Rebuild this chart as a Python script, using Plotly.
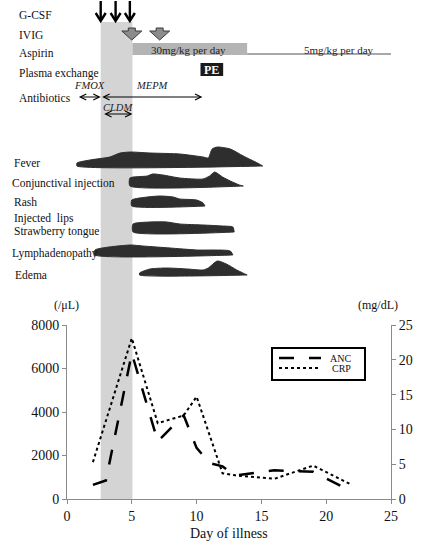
import plotly.graph_objects as go

# ---------------- data ----------------
# Lower chart: absolute neutrophil count (/uL) and CRP (mg/dL)
anc_days = [2, 3, 5, 7, 9, 10, 11, 12, 13, 16, 19, 22]
anc_vals = [650, 850, 6700, 2650, 3850, 2350, 1650, 1500, 1080, 1320, 1250, 330]
crp_days = [2, 5, 7, 9, 10, 12, 13, 16, 19, 22]
crp_vals = [5.3, 23.1, 10.9, 12.0, 14.7, 3.7, 3.4, 2.9, 4.8, 2.0]

x_ticks = [0, 5, 10, 15, 20, 25]
anc_ticks = [0, 2000, 4000, 6000, 8000]
crp_ticks = [0, 5, 10, 15, 20, 25]

# Treatment timeline (days)
band_days = [2.6, 5.05]              # shaded period
gcsf_days = [2.6, 3.75, 4.85]
ivig_days = [5.0, 7.15]
aspirin_high_days = [5.05, 13.9]
aspirin_low_days = [13.9, 25.0]
pe_days = [10.3, 12.05]
fmox_days = [0.8, 2.6]
mepm_days = [2.6, 10.45]
cldm_days = [2.75, 5.05]

# Symptom profiles: day and relative intensity
fever_days = [0.77, 1.77, 3.3, 4.1, 4.9, 6.4, 8.7, 10.5, 10.9, 11.2, 11.6, 12.6, 13.6, 14.7, 15.1]
fever_h = [3, 6, 9, 13, 14, 13, 12, 9, 8, 17, 19, 17, 10, 3, 0]
conj_days = [4.86, 6.2, 6.6, 7.4, 8.7, 10.5, 11.0, 11.4, 12.0, 12.6, 13.3, 13.6]
conj_h = [8, 10, 12, 11, 8, 7, 10, 14, 9, 5, 1, 0]
rash_days = [5.0, 6.2, 7.2, 8.2, 8.7, 10.0, 10.5, 10.65]
rash_h = [6, 9, 10, 9, 7, 6, 3, 0]
lips_days = [5.1, 6.4, 7.7, 8.7, 10.5, 12.0, 12.8, 12.9]
lips_h = [8, 10, 10, 8, 7, 6, 5, 0]
lymph_days = [2.16, 4.86, 5.86, 7.95, 10.0, 12.6, 12.8]
lymph_h = [5, 10, 9, 7, 5, 4, 0]
edema_days = [5.6, 6.4, 7.7, 9.3, 10.5, 10.9, 11.6, 12.3, 13.1, 13.9]
edema_h = [2, 6, 7, 6, 5, 7, 14, 11, 5, 0]

series_names = ["ANC", "CRP"]

# ---------------- layout constants ----------------
W, H = 430, 551
ML, MR, MT, MB = 67, 39, 0, 52
PW, PH = W - ML - MR, H - MT - MB
LOW_TOP_PX = 325
low_dom_top = (PH - LOW_TOP_PX) / PH
UP_DOM_BOTTOM = 0.36
up_range_px = PH * (1 - UP_DOM_BOTTOM)
px_per_day = PW / 25.0

SERIF = "Liberation Serif, Times New Roman, serif"
AXIS_COL = "#8a8a8a"


def px_x(px):
    return (px - ML) / PW


def px_y(py):
    return (PH - py) / PH


fig = go.Figure()

# ---------------- lower chart ----------------
fig.add_trace(go.Scatter(x=anc_days, y=anc_vals, mode="lines", name=series_names[0],
                         line=dict(color="black", width=2.5, dash="longdash"),
                         xaxis="x", yaxis="y", showlegend=False))
fig.add_trace(go.Scatter(x=crp_days, y=crp_vals, mode="lines", name=series_names[1],
                         line=dict(color="black", width=2, dash="dot"),
                         xaxis="x", yaxis="y2", showlegend=False))

# ---------------- symptom blobs ----------------
symptoms = [
    (fever_days, fever_h, 166),
    (conj_days, conj_h, 186),
    (rash_days, rash_h, 206),
    (lips_days, lips_h, 232),
    (lymph_days, lymph_h, 255),
    (edema_days, edema_h, 275),
]
for days, hs, base in symptoms:
    xs = [days[0]] + list(days) + [days[-1], days[0]]
    ys = [base] + [base - h for h in hs] + [base, base]
    fig.add_trace(go.Scatter(x=xs, y=ys, mode="lines", fill="toself",
                             fillcolor="#2e2e2e",
                             line=dict(color="#2e2e2e", width=1, shape="spline", smoothing=0.6),
                             showlegend=False, hoverinfo="skip", xaxis="x", yaxis="y3"))

shapes = []
annotations = []

# shaded band
shapes.append(dict(type="rect", xref="x", yref="paper", x0=band_days[0], x1=band_days[1],
                   y0=0, y1=px_y(22), fillcolor="#d4d4d4", line=dict(width=0), layer="below"))

# aspirin
shapes.append(dict(type="rect", xref="x", yref="y3", x0=aspirin_high_days[0], x1=aspirin_high_days[1],
                   y0=43, y1=55, fillcolor="#b4b4b4", line=dict(width=0), layer="below"))
shapes.append(dict(type="line", xref="x", yref="y3", x0=aspirin_low_days[0], x1=aspirin_low_days[1],
                   y0=54, y1=54, line=dict(color="#a8a8a8", width=2)))
annotations.append(dict(x=sum(aspirin_high_days) / 2 - 0.1, y=49.5, xref="x", yref="y3",
                        text="30mg/kg per day", showarrow=False,
                        font=dict(family=SERIF, size=11, color="#222")))
annotations.append(dict(x=21.0, y=49.5, xref="x", yref="y3", text="5mg/kg per day",
                        showarrow=False, font=dict(family=SERIF, size=11, color="#222")))

# plasma exchange
shapes.append(dict(type="rect", xref="x", yref="y3", x0=pe_days[0], x1=pe_days[1],
                   y0=63, y1=76, fillcolor="#1a1a1a", line=dict(width=0)))
annotations.append(dict(x=sum(pe_days) / 2, y=69.5, xref="x", yref="y3", text="<b>PE</b>",
                        showarrow=False, font=dict(family=SERIF, size=12, color="white")))

# IVIG block arrows
hw_head = 10 / px_per_day
hw_shaft = 3.5 / px_per_day
for d in ivig_days:
    path = (f"M {d - hw_shaft},28 L {d + hw_shaft},28 L {d + hw_shaft},31 L {d + hw_head},31 "
            f"L {d},40 L {d - hw_head},31 L {d - hw_shaft},31 Z")
    shapes.append(dict(type="path", xref="x", yref="y3", path=path,
                       fillcolor="#8c8c8c", line=dict(color="#3a3a3a", width=1)))

# G-CSF arrows (drawn as shapes: shaft + V head)
hw_g = 5 / px_per_day
for d in gcsf_days:
    shapes.append(dict(type="line", xref="x", yref="y3", x0=d, x1=d, y0=1, y1=20,
                       line=dict(color="black", width=2.4)))
    shapes.append(dict(type="path", xref="x", yref="y3",
                       path=f"M {d - hw_g},13 L {d},21 L {d + hw_g},13",
                       line=dict(color="black", width=2.4)))

# antibiotics double arrows
for (d0, d1), yy in [(fmox_days, 97), (mepm_days, 97), (cldm_days, 114)]:
    annotations.append(dict(x=d1, y=yy, ax=d0, ay=yy, xref="x", yref="y3", axref="x", ayref="y3",
                            text="", showarrow=True, arrowhead=5, startarrowhead=5,
                            arrowside="end+start", arrowsize=1.2, startarrowsize=1.2,
                            arrowwidth=1, arrowcolor="black"))
for txt, d, yy in [("FMOX", 1.75, 85), ("MEPM", 6.6, 85), ("CLDM", 3.9, 107)]:
    annotations.append(dict(x=d, y=yy, xref="x", yref="y3", text=f"<i>{txt}</i>", showarrow=False,
                            font=dict(family=SERIF, size=10.5, color="#222")))

# row labels
row_labels = [
    ("G-CSF", 17, 15), ("IVIG", 17, 35), ("Aspirin", 17, 53), ("Plasma exchange", 17, 73),
    ("Antibiotics", 17, 98), ("Fever", 12, 163), ("Conjunctival injection", 10, 183),
    ("Rash", 12, 202), ("Injected\u00a0 lips", 12, 218), ("Strawberry tongue", 12, 231),
    ("Lymphadenopathy", 10, 253), ("Edema", 13, 275),
]
for txt, xpx, ypx in row_labels:
    annotations.append(dict(x=px_x(xpx), y=ypx, xref="paper", yref="y3", xanchor="left",
                            yanchor="middle", text=txt, showarrow=False,
                            font=dict(family=SERIF, size=11.5, color="#111")))

# axis unit labels and x title
annotations.append(dict(x=px_x(52), y=px_y(305), xref="paper", yref="paper", text="(/\u03bcL)",
                        showarrow=False, font=dict(family=SERIF, size=12, color="#111")))
annotations.append(dict(x=px_x(400), y=px_y(305), xref="paper", yref="paper", text="(mg/dL)",
                        showarrow=False, font=dict(family=SERIF, size=12, color="#111")))
annotations.append(dict(x=px_x(229), y=px_y(543), xref="paper", yref="paper", text="Day of illness",
                        showarrow=False, font=dict(family=SERIF, size=14, color="#111")))

# legend box (drawn)
shapes.append(dict(type="rect", xref="paper", yref="paper", x0=px_x(272), x1=px_x(365),
                   y0=px_y(380), y1=px_y(348), line=dict(color="black", width=2), fillcolor="white"))
for i, (nm, dash, wdt) in enumerate([(series_names[0], "longdash", 2.5), (series_names[1], "dot", 2)]):
    yy = px_y(358 + i * 10)
    shapes.append(dict(type="line", xref="paper", yref="paper", x0=px_x(279), x1=px_x(321),
                       y0=yy, y1=yy, line=dict(color="black", width=wdt, dash=dash)))
    annotations.append(dict(x=px_x(353), y=yy, xref="paper", yref="paper", xanchor="right",
                            yanchor="middle", text=nm, showarrow=False,
                            font=dict(family=SERIF, size=10, color="#111")))

tickfont = dict(family=SERIF, size=14, color="#111")
fig.update_layout(
    width=W, height=H, autosize=False,
    margin=dict(l=ML, r=MR, t=MT, b=MB, pad=0, autoexpand=False),
    paper_bgcolor="white", plot_bgcolor="rgba(0,0,0,0)",
    showlegend=False,
    xaxis=dict(range=[0, 25], tickvals=x_ticks, ticks="outside", ticklen=4, tickcolor=AXIS_COL,
               showline=True, linecolor=AXIS_COL, linewidth=1, showgrid=False, zeroline=False,
               tickfont=tickfont, anchor="y"),
    yaxis=dict(domain=[0, low_dom_top], range=[0, 8000], tickvals=anc_ticks, ticks="outside",
               ticklen=4, tickcolor=AXIS_COL, showline=True, linecolor=AXIS_COL, linewidth=1,
               showgrid=False, zeroline=False, tickfont=tickfont),
    yaxis2=dict(overlaying="y", side="right", range=[0, 25], tickvals=crp_ticks, ticks="outside",
                ticklen=4, tickcolor=AXIS_COL, showline=True, linecolor=AXIS_COL, linewidth=1,
                showgrid=False, zeroline=False, tickfont=tickfont, anchor="x"),
    yaxis3=dict(domain=[UP_DOM_BOTTOM, 1], range=[up_range_px, 0], visible=False, anchor="x",
                showgrid=False, zeroline=False),
    shapes=shapes, annotations=annotations,
)

fig.write_html("out.html", config={"displayModeBar": False},
               post_script="document.body.style.margin='0px';document.body.style.overflow='hidden';")
